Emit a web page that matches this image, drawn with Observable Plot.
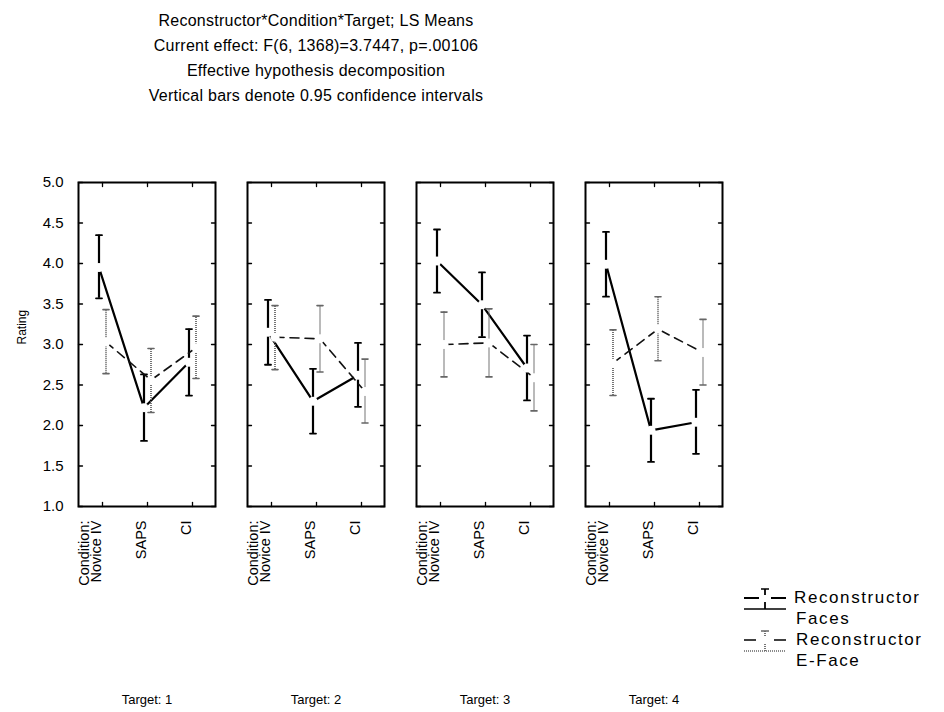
<!DOCTYPE html>
<html>
<head>
<meta charset="utf-8">
<script src="https://cdn.jsdelivr.net/npm/d3@7"></script>
<script src="https://cdn.jsdelivr.net/npm/@observablehq/plot@0.6"></script>
<style>
  body { margin: 0; background: #fff; }
  #wrap { position: relative; width: 944px; height: 712px; font-family: "Liberation Sans", Arial, sans-serif; color: #000; overflow: hidden; }
  #titles { position: absolute; left: 0; top: 8px; width: 632px; text-align: center; font-size: 16px; line-height: 25px; letter-spacing: 0.25px; }
  #chart { position: absolute; left: 0; top: 110px; }
  .leg { position: absolute; font-size: 17px; line-height: 20px; letter-spacing: 1.6px; white-space: nowrap; }
</style>
</head>
<body>
<div id="wrap">
  <div id="titles">
    <div>Reconstructor*Condition*Target; LS Means</div>
    <div>Current effect: F(6, 1368)=3.7447, p=.00106</div>
    <div>Effective hypothesis decomposition</div>
    <div>Vertical bars denote 0.95 confidence intervals</div>
  </div>
  <div id="chart"></div>
  <svg class="leg" style="left:744px;top:587px" width="42" height="24">
    <line x1="17" y1="2" x2="25" y2="2" stroke="#000" stroke-width="1.5"/>
    <line x1="21" y1="2" x2="21" y2="8" stroke="#000" stroke-width="1.8"/>
    <line x1="21" y1="15" x2="21" y2="22" stroke="#000" stroke-width="1.8"/>
    <line x1="0" y1="11" x2="15" y2="11" stroke="#000" stroke-width="2"/>
    <line x1="27" y1="11" x2="42" y2="11" stroke="#000" stroke-width="2"/>
    <line x1="0" y1="22" x2="42" y2="22" stroke="#000" stroke-width="1.5"/>
  </svg>
  <div class="leg" style="left:794px;top:588px">Reconstructor</div>
  <div class="leg" style="left:796px;top:609px">Faces</div>
  <svg class="leg" style="left:744px;top:629px" width="42" height="24">
    <line x1="17" y1="2" x2="25" y2="2" stroke="#666" stroke-width="1.5"/>
    <line x1="21" y1="2" x2="21" y2="8" stroke="#666" stroke-width="1.8" stroke-dasharray="1,1"/>
    <line x1="21" y1="15" x2="21" y2="22" stroke="#666" stroke-width="1.8" stroke-dasharray="1,1"/>
    <line x1="0" y1="11" x2="12" y2="11" stroke="#111" stroke-width="1.6"/>
    <line x1="30" y1="11" x2="42" y2="11" stroke="#111" stroke-width="1.6"/>
    <line x1="0" y1="22" x2="42" y2="22" stroke="#666" stroke-width="1.5" stroke-dasharray="1,1"/>
  </svg>
  <div class="leg" style="left:796px;top:630px">Reconstructor</div>
  <div class="leg" style="left:796px;top:651px">E-Face</div>
</div>
<script>
// Facets (targets) and categories (conditions)
const targets = [1, 2, 3, 4];
const conditions = ["Novice IV", "SAPS", "CI"];
const yTicks = [1.0, 1.5, 2.0, 2.5, 3.0, 3.5, 4.0, 4.5, 5.0];

// LS means and 95% confidence limits, ordered target by target, Novice IV / SAPS / CI
const facesMean  = [3.95, 2.22, 2.78,  3.15, 2.30, 2.62,  4.03, 3.49, 2.71,  3.99, 1.94, 2.04];
const facesLower = [3.57, 1.81, 2.37,  2.75, 1.90, 2.23,  3.64, 3.09, 2.31,  3.59, 1.55, 1.65];
const facesUpper = [4.35, 2.63, 3.19,  3.55, 2.70, 3.02,  4.42, 3.89, 3.11,  4.39, 2.33, 2.44];

const eFaceMean  = [3.03, 2.56, 2.96,  3.09, 3.07, 2.42,  3.00, 3.02, 2.59,  2.77, 3.19, 2.90];
const eFaceLower = [2.64, 2.16, 2.58,  2.69, 2.66, 2.03,  2.60, 2.60, 2.18,  2.37, 2.80, 2.50];
const eFaceUpper = [3.43, 2.95, 3.35,  3.48, 3.48, 2.82,  3.40, 3.44, 3.00,  3.18, 3.59, 3.31];

function rows(mean, lower, upper) {
  const out = [];
  targets.forEach((t, i) => conditions.forEach((c, j) => {
    const k = i * conditions.length + j;
    out.push({target: t, condition: c, mean: mean[k], lower: lower[k], upper: upper[k]});
  }));
  return out;
}
const faces = rows(facesMean, facesLower, facesUpper);
const eFace = rows(eFaceMean, eFaceLower, eFaceUpper);

// a plain stroke used for frame ticks and error-bar caps
const stroke = {draw(context, l) { context.moveTo(0, 0); context.lineTo(0, -l); }};
const edgeTick = (data, opts) => Plot.vector(data, {length: 4, anchor: "start", shape: stroke, stroke: "#000", strokeWidth: 1.3, fill: "none", ...opts});

function seriesMarks(data, dx, bar, cap, line) {
  const base = {fx: "target", x: "condition", dx};
  return [
    Plot.ruleX(data, {...base, y1: "lower", y2: "upper", ...bar}),
    Plot.vector(data, {...base, y: "lower", length: 6, rotate: 90, anchor: "middle", shape: stroke, fill: "none", ...cap}),
    Plot.vector(data, {...base, y: "upper", length: 6, rotate: 90, anchor: "middle", shape: stroke, fill: "none", ...cap}),
    Plot.line(data, {...base, y: "mean", ...line})
  ];
}

const chart = Plot.plot({
  width: 944,
  height: 602,
  marginTop: 72,
  marginBottom: 206,
  marginLeft: 76,
  marginRight: 221,
  style: {fontFamily: "'Liberation Sans', Arial, sans-serif", fontSize: "14.5px", color: "#000", background: "#fff"},
  fx: {domain: targets, paddingInner: 0.19, paddingOuter: 0},
  x: {type: "point", domain: conditions, padding: 0.52, axis: null},
  y: {domain: [1, 5]},
  marks: [
    Plot.frame({stroke: "#000", strokeWidth: 2}),
    edgeTick(yTicks, {y: d => d, frameAnchor: "left", rotate: 90}),
    edgeTick(yTicks, {y: d => d, frameAnchor: "right", rotate: -90}),
    edgeTick(conditions, {x: d => d, frameAnchor: "bottom", rotate: 0}),
    edgeTick(conditions, {x: d => d, frameAnchor: "top", rotate: 180}),
    Plot.axisY({ticks: yTicks, tickSize: 0, tickPadding: 15, tickFormat: d3.format(".1f"), label: null, fontSize: 15}),
    Plot.text([1], {fx: d => d, text: () => "Rating", frameAnchor: "left", dx: -56, rotate: -90, fontSize: 12}),
    Plot.axisFx({anchor: "bottom", tickSize: 0, tickPadding: 188, tickFormat: d => `Target: ${d}`, label: null, fontSize: 13}),
    Plot.text(conditions, {x: d => d, text: d => d, frameAnchor: "bottom", rotate: -90, textAnchor: "end", dy: 14, dx: -2}),
    Plot.text(conditions.slice(0, 1), {x: d => d, text: () => "Condition:", frameAnchor: "bottom", rotate: -90, textAnchor: "end", dy: 14, dx: -14}),
    ...seriesMarks(faces, -3.5,
      {stroke: "#000", strokeWidth: 2.2},
      {stroke: "#000", strokeWidth: 1.8},
      {stroke: "#000", strokeWidth: 2.2}),
    ...seriesMarks(eFace, 3.5,
      {stroke: "#666", strokeWidth: 1.8, strokeDasharray: "1,1"},
      {stroke: "#666", strokeWidth: 1.6},
      {stroke: "#111", strokeWidth: 1.6, strokeDasharray: "9,6"}),
    Plot.dot(faces, {fx: "target", x: "condition", y: "mean", dx: -3.5, r: 4.5, fill: "#fff", stroke: null}),
    Plot.dot(eFace, {fx: "target", x: "condition", y: "mean", dx: 3.5, r: 4.5, fill: "#fff", stroke: null})
  ]
});
document.getElementById("chart").append(chart);
</script>
</body>
</html>
